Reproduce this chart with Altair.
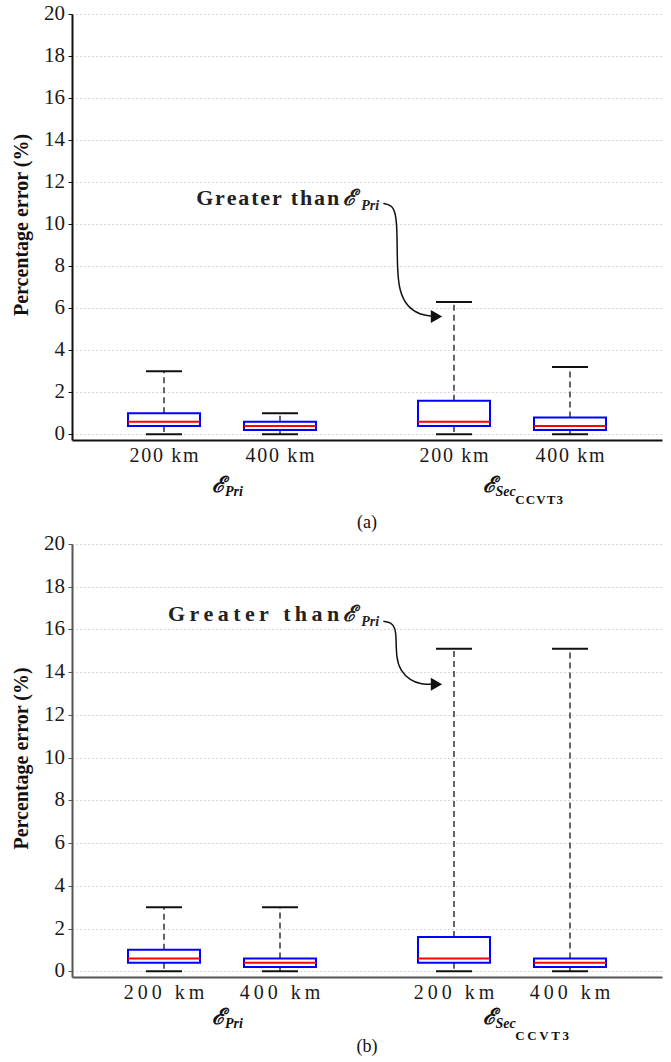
import altair as alt
import pandas as pd

# ---------------- data ----------------
positions = [1, 2, 3.5, 4.5]
distances = ["200 km", "400 km", "200 km", "400 km"]
y_ticks = list(range(0, 21, 2))
y_title = "Percentage error (%)"

# panel (a)
a_low = [0.0, 0.0, 0.0, 0.0]
a_q1 = [0.4, 0.2, 0.4, 0.2]
a_med = [0.6, 0.4, 0.6, 0.4]
a_q3 = [1.0, 0.6, 1.6, 0.8]
a_high = [3.0, 1.0, 6.3, 3.2]

# panel (b)
b_low = [0.0, 0.0, 0.0, 0.0]
b_q1 = [0.4, 0.2, 0.4, 0.2]
b_med = [0.6, 0.4, 0.6, 0.4]
b_q3 = [1.0, 0.6, 1.6, 0.6]
b_high = [3.0, 3.0, 15.1, 15.1]

# annotation arrow paths (data units)
arrow_a_x = [2.891, 2.959, 2.993, 3.010, 3.010, 3.027, 3.103, 3.205, 3.315]
arrow_a_y = [10.98, 10.91, 10.60, 9.89, 7.99, 6.80, 6.03, 5.70, 5.61]
arrow_b_x = [2.891, 2.959, 2.993, 3.002, 3.002, 3.036, 3.120, 3.222, 3.315]
arrow_b_y = [16.38, 16.33, 16.05, 15.63, 14.69, 14.09, 13.62, 13.43, 13.43]
head_a = (3.349, 5.61)
head_b = (3.349, 13.43)
note_a = (2.51, 10.89)
note_b = (2.51, 16.38)

group_anchor = [1.526, 3.858]
group_sub = ["Pri", "Sec"]
ccvt_anchor = 4.028

HAIR = "\u200a"
THIN = "\u2009"

W = 590
SERIF = "Liberation Serif"
SCRIPT = "DejaVu Serif"


def spaced(s, sep):
    return sep.join(list(s))


def panel(low, q1, med, q3, high, ax_x, ax_y, head, note, sep, caption,
          height, axis_color, ymin, ybase):
    df = pd.DataFrame({"pos": positions, "low": low, "q1": q1, "med": med,
                       "q3": q3, "high": high,
                       "lab": [spaced(d, sep) for d in distances]})
    xs = alt.Scale(domain=[0.25, 5.25], nice=False, zero=False)
    ys = alt.Scale(domain=[ymin, 20], nice=False, zero=False)
    xaxis = alt.Axis(values=positions, labels=False, title=None, grid=False,
                     ticks=False, domainColor=axis_color, domainWidth=2)
    yaxis = alt.Axis(values=y_ticks, labels=False, title=None, tickSize=4,
                     tickColor=axis_color, domainColor=axis_color, domainWidth=2,
                     grid=True, gridDash=[1, 3], gridColor="#b0b0b0", gridWidth=1)

    def X(f):
        return alt.X(f"{f}:Q", scale=xs, axis=xaxis)

    def Y(f):
        return alt.Y(f"{f}:Q", scale=ys, axis=yaxis)

    base = alt.Chart(df)
    upper = base.mark_rule(strokeDash=[6, 4], color="#333", strokeWidth=1.5).encode(
        x=X("pos"), y=Y("q3"), y2="high")
    lower = base.mark_rule(strokeDash=[6, 4], color="#333", strokeWidth=1.5).encode(
        x=X("pos"), y=Y("q1"), y2="low")
    cap_hi = base.mark_tick(orient="horizontal", size=36, thickness=2, color="#111",
                            opacity=1).encode(x=X("pos"), y=Y("high"))
    cap_lo = base.mark_tick(orient="horizontal", size=36, thickness=2, color="#111",
                            opacity=1).encode(x=X("pos"), y=Y("low"))
    box = base.mark_bar(size=72, fillOpacity=0, stroke="#0000ff", strokeWidth=2,
                        strokeOpacity=1).encode(x=X("pos"), y=Y("q1"), y2="q3")
    median = base.mark_tick(orient="horizontal", size=72, thickness=2, color="#ff0000",
                            opacity=1).encode(x=X("pos"), y=Y("med"))

    # x tick labels
    xlab = base.mark_text(align="center", baseline="middle", font=SERIF, fontSize=20,
                          color="#1a1a1a").encode(
        x=X("pos"), y=alt.value(height + 16), text="lab:N")
    # y tick labels
    ydf = pd.DataFrame({"v": y_ticks})
    ylab = alt.Chart(ydf).mark_text(align="right", baseline="middle", dx=-7, font=SERIF,
                                    fontSize=21, color="#1a1a1a").encode(
        x=alt.value(0), y=Y("v"), text=alt.Text("v:Q", format="d"))
    # y title
    tdf = pd.DataFrame({"t": [y_title]})
    ytitle = alt.Chart(tdf).mark_text(angle=270, align="center", baseline="middle",
                                      font=SERIF, fontSize=20, fontWeight="bold",
                                      color="#111").encode(
        x=alt.value(-50), y=alt.value(height / 2 - 2), text="t:N")

    arr_df = pd.DataFrame({"ax": ax_x, "ay": ax_y, "i": list(range(len(ax_x)))})
    arrow = alt.Chart(arr_df).mark_line(interpolate="basis", color="#111", strokeWidth=1.5).encode(
        x=X("ax"), y=Y("ay"), order="i:O")
    head_df = pd.DataFrame({"hx": [head[0]], "hy": [head[1]]})
    arrow_head = alt.Chart(head_df).mark_point(shape="triangle-right", filled=True, size=170,
                                               color="#111", opacity=1).encode(
        x=X("hx"), y=Y("hy"))

    note_df = pd.DataFrame({"nx": [note[0]], "ny": [note[1]],
                            "t": [spaced("Greater than", sep)]})
    note_text = alt.Chart(note_df).mark_text(align="right", baseline="alphabetic", font=SERIF,
                                             fontWeight="bold", fontSize=22, color="#222").encode(
        x=X("nx"), y=Y("ny"), text="t:N")
    note_e = alt.Chart(note_df).mark_text(align="left", baseline="alphabetic", dx=4,
                                          font=SCRIPT, fontStyle="italic",
                                          fontWeight="bold", fontSize=22, color="#222").encode(
        x=X("nx"), y=Y("ny"), text=alt.value("\u2130"))
    note_sub = alt.Chart(note_df).mark_text(align="left", baseline="alphabetic", dx=22, dy=5,
                                            font=SERIF, fontStyle="italic",
                                            fontWeight="bold", fontSize=14, color="#222").encode(
        x=X("nx"), y=Y("ny"), text=alt.value("Pri"))

    g_df = pd.DataFrame({"gx": group_anchor, "sub": group_sub})
    g_e = alt.Chart(g_df).mark_text(align="right", baseline="alphabetic", font=SCRIPT,
                                    fontStyle="italic", fontWeight="bold", fontSize=22,
                                    color="#111").encode(
        x=X("gx"), y=alt.value(ybase[0]), text=alt.value("\u2130"))
    g_sub = alt.Chart(g_df).mark_text(align="left", baseline="alphabetic", font=SERIF,
                                      fontStyle="italic", fontWeight="bold", fontSize=14,
                                      color="#111").encode(
        x=X("gx"), y=alt.value(ybase[1]), text="sub:N")
    c_df = pd.DataFrame({"cx": [ccvt_anchor], "t": [spaced("CCVT3", sep)]})
    g_ccvt = alt.Chart(c_df).mark_text(align="left", baseline="alphabetic", font=SERIF,
                                       fontWeight="bold", fontSize=13, color="#111").encode(
        x=X("cx"), y=alt.value(ybase[2]), text="t:N")
    cap_df = pd.DataFrame({"t": [caption]})
    cap = alt.Chart(cap_df).mark_text(align="center", baseline="alphabetic", font=SERIF,
                                      fontSize=18, color="#111").encode(
        x=alt.value(W / 2), y=alt.value(ybase[3]), text="t:N")

    return alt.layer(upper, lower, cap_hi, cap_lo, box, median, xlab, ylab, ytitle,
                     arrow, arrow_head, note_text, note_e, note_sub, g_e, g_sub,
                     g_ccvt, cap).properties(width=W, height=height)


pa = panel(a_low, a_q1, a_med, a_q3, a_high, arrow_a_x, arrow_a_y, head_a, note_a,
           HAIR, "(a)", 426, "#111", -0.27, [478, 482, 490, 514])
pb = panel(b_low, b_q1, b_med, b_q3, b_high, arrow_b_x, arrow_b_y, head_b, note_b,
           THIN, "(b)", 433, "#555", -0.27, [480, 484, 496, 508])

chart = alt.vconcat(pa, pb, spacing=104, bounds="flush").configure_view(
    stroke=None).properties(padding={"left": 12, "top": 3, "right": 5, "bottom": 0})

chart.save("out.html", embed_options={"renderer": "svg", "actions": False})
